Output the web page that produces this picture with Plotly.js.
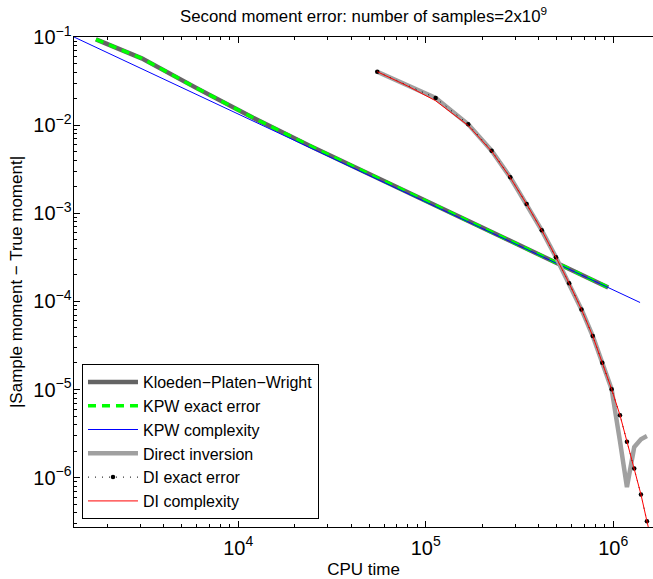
<!DOCTYPE html>
<html>
<head>
<meta charset="utf-8">
<script src="https://cdn.plot.ly/plotly-3.0.1.min.js"></script>
<style>html,body{margin:0;padding:0;background:#fff;}#chart{width:653px;height:579px;}</style>
</head>
<body>
<div id="chart"></div>
<script>
// ---- data ----
const kpwX = [1742, 3055, 6000, 12000, 24000, 48000, 96000, 192000, 384000, 940000];
const kpwY = [0.094, 0.0573, 0.0263, 0.01215, 0.00585, 0.0029, 0.001434, 0.000717, 0.000359, 0.000144];
const kpwExactY = [0.094, 0.0573, 0.0263, 0.01215, 0.00585, 0.0029, 0.001434, 0.000717, 0.000359, 0.000144];
const kpwComplexX = [1330, 1390000];
const kpwComplexY = [0.1, 0.0000971];

const diX = [55100, 112900, 168500, 224600, 282300, 345200, 415700, 494800, 581800, 676800, 777600, 873600, 980600, 1086000, 1183000, 1294000, 1405000, 1512000];
const diY = [0.0404, 0.0203, 0.0102, 0.00512, 0.002556, 0.001272, 0.00064, 0.000317, 0.0001605, 0.0000811, 0.0000404, 0.0000201, 0.00001005, 0.00000512, 0.00000255, 0.000001272, 0.000000645, 0.000000321];
const diInvY = [0.0404, 0.0203, 0.0102, 0.00512, 0.002556, 0.001272, 0.00064, 0.000317, 0.0001605, 0.0000811, 0.0000404, 0.0000201, 0.00001005, 0.0000026, 0.00000078, 0.00000222, 0.00000273, 0.00000296];
const diComplexX = [55100, 80000, 112900, 168500, 224600, 282300, 345200, 415700, 494800, 581800, 676800, 777600, 873600, 980600, 1086000, 1183000, 1294000, 1405000, 1512000, 1560000];
const diComplexY = [0.0404, 0.0278, 0.0189, 0.0099, 0.00505, 0.00254, 0.00127, 0.00064, 0.000317, 0.0001605, 0.0000811, 0.0000404, 0.0000201, 0.00001005, 0.00000512, 0.00000255, 0.000001272, 0.000000645, 0.000000321, 0.00000024];

const names = ['Kloeden\u2212Platen\u2212Wright', 'KPW exact error', 'KPW complexity', 'Direct inversion', 'DI exact error', 'DI complexity'];

// minor tick positions (2..9 of each decade)
const xMinorTicks = [2000, 3000, 4000, 5000, 6000, 7000, 8000, 9000,
  20000, 30000, 40000, 50000, 60000, 70000, 80000, 90000,
  200000, 300000, 400000, 500000, 600000, 700000, 800000, 900000];
const yMinorTicks = [3e-7, 4e-7, 5e-7, 6e-7, 7e-7, 8e-7, 9e-7,
  2e-6, 3e-6, 4e-6, 5e-6, 6e-6, 7e-6, 8e-6, 9e-6,
  2e-5, 3e-5, 4e-5, 5e-5, 6e-5, 7e-5, 8e-5, 9e-5,
  2e-4, 3e-4, 4e-4, 5e-4, 6e-4, 7e-4, 8e-4, 9e-4,
  2e-3, 3e-3, 4e-3, 5e-3, 6e-3, 7e-3, 8e-3, 9e-3,
  2e-2, 3e-2, 4e-2, 5e-2, 6e-2, 7e-2, 8e-2, 9e-2];

const FONT = 'Liberation Sans, Arial, Helvetica, sans-serif';
const xRange = [3.124, 6.212];
const yRange = [-6.56, -1];

const traces = [
  // carrier for the minor-tick axes (invisible)
  {x: kpwX, y: kpwY, xaxis: 'x2', yaxis: 'y2', mode: 'lines', line: {width: 0}, opacity: 0, showlegend: false, hoverinfo: 'skip'},
  {x: kpwX, y: kpwY, name: names[0], mode: 'lines', line: {color: '#646464', width: 4.5}},
  {x: kpwX, y: kpwExactY, name: names[1], mode: 'lines', line: {color: '#00ff00', width: 3.5, dash: '8px,6px'}},
  {x: kpwComplexX, y: kpwComplexY, name: names[2], mode: 'lines', line: {color: '#0000ff', width: 1}},
  {x: diX, y: diInvY, name: names[3], mode: 'lines', line: {color: '#a0a0a0', width: 4.5}},
  {x: diX, y: diY, name: names[4], mode: 'lines+markers', line: {color: '#000000', width: 1, dash: '1px,6px'}, marker: {color: '#000000', size: 4.5}},
  {x: diComplexX, y: diComplexY, name: names[5], mode: 'lines', line: {color: '#ff0000', width: 1}}
];

const axisCommon = {
  type: 'log', showgrid: false, zeroline: false,
  showline: true, linecolor: '#000', linewidth: 1.3,
  ticks: 'inside', ticklen: 6, tickwidth: 1, tickcolor: '#000',
  dtick: 1, exponentformat: 'power',
  tickfont: {family: FONT, size: 16, color: '#000'}
};
const minorCommon = {
  type: 'log', showgrid: false, zeroline: false, showline: false,
  ticks: 'inside', ticklen: 3, tickwidth: 1, tickcolor: '#000',
  tickmode: 'array', showticklabels: false
};

const layout = {
  width: 653, height: 579,
  margin: {l: 74, r: 0, t: 37, b: 52, pad: 0},
  paper_bgcolor: '#fff', plot_bgcolor: '#fff',
  font: {family: FONT, color: '#000'},
  title: {text: 'Second moment error: number of samples=2x10<sup>9</sup>', font: {family: FONT, size: 16.8, color: '#000'},
          xref: 'paper', x: 0.5, xanchor: 'center', yref: 'container', y: 0.972, yanchor: 'middle'},
  xaxis: Object.assign({}, axisCommon, {range: xRange, mirror: 'ticks', ticklabelstandoff: 3,
          title: {text: 'CPU time', font: {family: FONT, size: 17, color: '#000'}, standoff: 5}}),
  yaxis: Object.assign({}, axisCommon, {range: yRange, mirror: false, ticklabelstandoff: -2,
          title: {text: '|Sample moment \u2212 True moment|', font: {family: FONT, size: 17, color: '#000'}, standoff: 6}}),
  xaxis2: Object.assign({}, minorCommon, {range: xRange, overlaying: 'x', anchor: 'y2', side: 'bottom', mirror: 'ticks', tickvals: xMinorTicks}),
  yaxis2: Object.assign({}, minorCommon, {range: yRange, overlaying: 'y', anchor: 'x2', side: 'left', mirror: false, tickvals: yMinorTicks}),
  showlegend: true,
  legend: {x: 0.0138, xanchor: 'left', y: 0.0163, yanchor: 'bottom',
           bgcolor: '#fff', bordercolor: '#000', borderwidth: 1,
           font: {family: FONT, size: 16, color: '#000'}, itemwidth: 50, tracegroupgap: 0}
};

Plotly.newPlot('chart', traces, layout, {displayModeBar: false, staticPlot: true});
</script>
</body>
</html>
